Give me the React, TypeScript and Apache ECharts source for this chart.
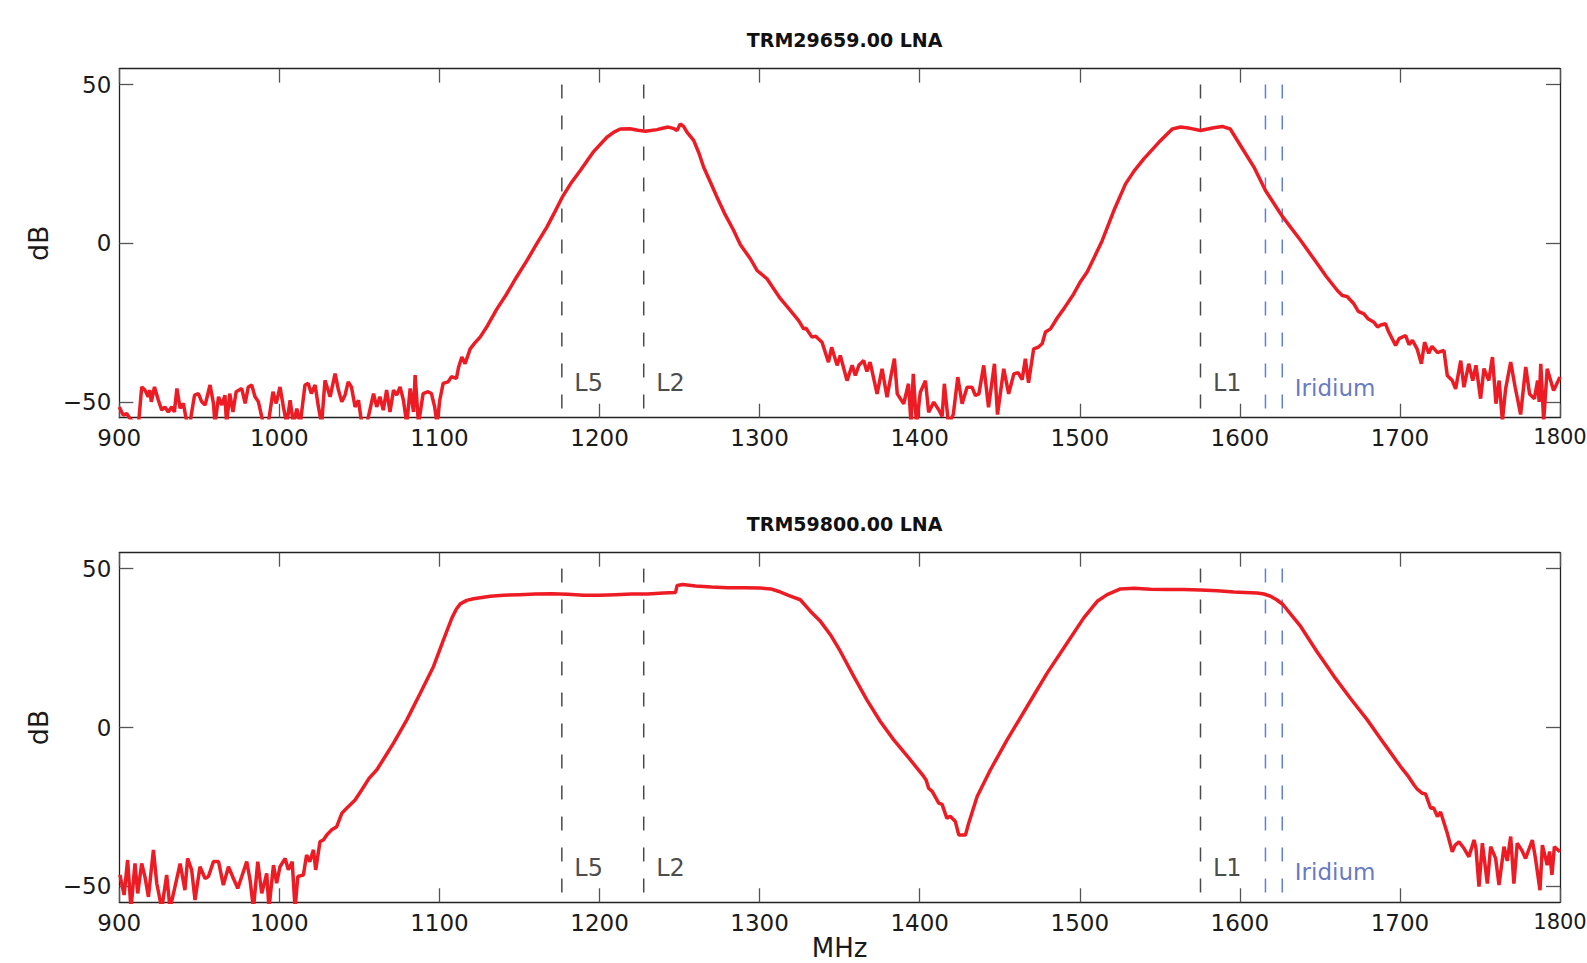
import React, { useEffect, useRef } from "react";
import * as echarts from "echarts";

const FREQ_MIN = 900;
const FREQ_MAX = 1800;
const FREQ_STEP = 100;
const DB_MIN = -55;
const DB_MAX = 55;
const DB_TICKS = [-50, 0, 50];
const TITLES = ["TRM29659.00 LNA", "TRM59800.00 LNA"];
const X_NAME = "MHz";
const Y_NAME = "dB";

const GNSS_BANDS = [
  { name: "L5", freq: 1176.45 },
  { name: "L2", freq: 1227.6 },
  { name: "L1", freq: 1575.42 },
];
const IRIDIUM_EDGES = [1616, 1626.5];
const IRIDIUM_LABEL = "Iridium";
const MARKER_TOP = 50;
const BAND_LABEL_DB = -44.2;
const IRIDIUM_LABEL_DB = -45.5;

// TRM29659.00 LNA gain (MHz, dB)
const trm29659: [number, number][] = [
  [900, -51.6], [902.5, -54.2], [904.6, -53.7], [907, -55.5], [910, -57], [912, -57], [914, -45.3], [916, -46.3],
  [918, -48.4], [919, -46.3], [920, -50], [922, -45.3], [924.4, -49.5], [926.5, -52.6], [928.5, -51.6], [930.6, -53.2],
  [932.7, -51.6], [934.4, -53.2], [936, -45.8], [938, -52], [940, -50.5], [942, -56], [944, -57], [947, -47.9],
  [949.4, -47.4], [951.5, -50], [953.6, -51], [956.7, -44.7], [958.8, -50.5], [959.8, -57], [962, -48.4], [964, -51],
  [966, -47.9], [967, -57], [969, -47.4], [971, -53.2], [973, -46.8], [976.5, -45.8], [978.6, -50.5], [980.6, -45.3],
  [982.7, -44.7], [984.8, -48.4], [986.9, -50], [990, -57], [993, -57], [996, -46.8], [998, -50.5], [1000.4, -45.3],
  [1002.5, -51.6], [1004.6, -57], [1006.7, -49.5], [1008.8, -57], [1010.9, -52.1], [1013, -57], [1016, -44.7], [1018, -44.2],
  [1020, -47.4], [1022.3, -44.7], [1024.4, -51.6], [1026.4, -57], [1028.5, -43.2], [1031.7, -48.4], [1034.8, -41.1], [1036.9, -46.3],
  [1039, -50], [1041, -47.9], [1043, -43.7], [1045, -45.3], [1047.3, -51.6], [1049.4, -49.5], [1051.5, -57], [1054.6, -57],
  [1058.8, -47.4], [1060.8, -51.6], [1062.8, -48.4], [1064.9, -52.6], [1067, -46.3], [1069.1, -53.2], [1071.3, -46.3], [1073.3, -47.9],
  [1075.4, -45.3], [1077.5, -49.5], [1079.6, -57], [1081.7, -45.8], [1083.8, -53.2], [1084.8, -41.6], [1086.9, -57], [1089.8, -47.4],
  [1092.9, -46.8], [1095, -47.4], [1097, -51.6], [1098.5, -57], [1100.2, -49.5], [1102.3, -44.2], [1105.4, -43.7], [1107.5, -42.1],
  [1110.6, -42.6], [1112, -39], [1114, -35.9], [1116, -38], [1119.2, -33.3], [1122, -31.5], [1125.4, -29.6], [1130, -26],
  [1135.9, -20.7], [1142, -16], [1148, -10.8], [1154.6, -5.5], [1161, 0], [1167, 5], [1172, 9.8], [1176.7, 14.5],
  [1182, 18.8], [1188, 22.9], [1196, 28.7], [1204.6, 33.4], [1209, 35], [1213, 36], [1219, 36.1], [1224, 35.6],
  [1228.6, 35.3], [1232, 35.5], [1235.9, 35.8], [1240, 36.3], [1243, 36.6], [1246, 36.2], [1248.4, 35.5], [1250.4, 37.6],
  [1252.5, 36.8], [1254.6, 35], [1258.8, 32.4], [1262, 28.5], [1265, 24], [1269, 19.5], [1273.4, 14.5], [1278, 9.5],
  [1283.8, 4], [1288, -0.5], [1294.2, -4.9], [1298.4, -8.6], [1304.6, -11.2], [1309, -14.5], [1313, -17.5], [1318, -20.5],
  [1324.4, -24.4], [1327.5, -27], [1329, -26.8], [1332.7, -29.6], [1335, -29.3], [1339, -31.2], [1343, -37.5], [1345, -32.8],
  [1348.4, -38.5], [1350.4, -35.4], [1354.6, -43.3], [1357.8, -38.5], [1359.8, -41.7], [1362, -38.5], [1365, -37], [1367, -40.4],
  [1369, -37.5], [1373.4, -47.5], [1376.5, -39.6], [1379.6, -48.5], [1382, -42], [1384.2, -36.4], [1386, -47.5], [1390, -50.6],
  [1393, -44.3], [1394.6, -57], [1396, -41.2], [1398, -57], [1400.4, -47], [1403.6, -43.3], [1405.6, -53.3], [1408.8, -50.1],
  [1412, -52.6], [1414, -54.6], [1415.4, -44.3], [1418, -57], [1421, -54], [1423.8, -42.2], [1426.5, -50.6], [1429.6, -45.4],
  [1432.7, -45.4], [1434.8, -48], [1437, -47.5], [1440, -38.5], [1443, -51.7], [1446.7, -38], [1448.6, -54], [1452.5, -39.6],
  [1455.6, -47.5], [1458.8, -41.2], [1461.5, -40.8], [1464, -43], [1466, -36.4], [1468, -44], [1471.2, -33.3], [1474, -32.8],
  [1476.5, -31.7], [1478.6, -28], [1481.7, -27], [1486, -23.5], [1490, -20.7], [1496.2, -16], [1500, -12.5], [1504.6, -9.1],
  [1509, -4.5], [1514, 0.8], [1521.3, 10.3], [1528.6, 18.7], [1534, 22.8], [1540, 26.6], [1549.4, 31.8], [1557.8, 36],
  [1563, 36.6], [1569, 36.2], [1575.4, 35.5], [1583.7, 36.4], [1589, 36.8], [1594, 36], [1600.4, 30.8], [1608.8, 24],
  [1616, 16.6], [1626.9, 8.2], [1638, 0.85], [1648.4, -6.5], [1654, -10.5], [1660.9, -14.9], [1664, -16.5], [1667, -16.8],
  [1671.2, -19.1], [1674, -21.5], [1677.5, -22.3], [1680, -23.8], [1683.8, -24.9], [1686, -26.4], [1688, -25.8], [1691, -25.4],
  [1693, -28], [1697.3, -32.2], [1699.4, -30.1], [1703.6, -29.1], [1705.7, -32], [1707.8, -30.6], [1710.8, -33.4], [1713.4, -38],
  [1715.4, -31.2], [1718, -34.7], [1720, -32.5], [1723.5, -34.5], [1727.5, -33.8], [1729.6, -41.7], [1732.7, -43.3], [1734.8, -45.9],
  [1738, -37], [1740, -45.4], [1743, -38], [1745.5, -43.3], [1747.5, -38.5], [1750.4, -49], [1752.5, -39.5], [1755.5, -43.3],
  [1757.8, -35.9], [1760, -50.6], [1762, -43.3], [1764, -56], [1766, -46], [1769.2, -37.5], [1772, -45.4], [1775.4, -54],
  [1778.6, -39], [1781, -47.5], [1784, -49], [1786, -43.3], [1787, -50], [1788, -38], [1789.8, -56], [1792, -39.6],
  [1796, -46.4], [1800, -42.2],
];

// TRM59800.00 LNA gain (MHz, dB)
const trm59800: [number, number][] = [
  [900.4, -46.4], [903, -52.7], [905.2, -41.7], [907.3, -57], [909.8, -42.8], [911.5, -52.2], [914, -42.8], [916, -46.9],
  [918.2, -53.3], [921.3, -38.5], [923.4, -49], [926.5, -57], [929.6, -46.4], [931.7, -57], [934.8, -50.1], [938, -42.8],
  [941, -51.2], [942.7, -41.2], [945.2, -44.8], [947.3, -54.3], [950.4, -43.8], [953.6, -47.5], [955.7, -46.9], [958.8, -42.2],
  [962, -42.2], [965, -49.6], [968.2, -43.8], [971.3, -47.5], [974, -50.6], [976.5, -46.9], [979.6, -42.2], [981.7, -48],
  [983.8, -57], [986.5, -42.2], [989, -52.2], [992.1, -45.9], [993.5, -57], [996.3, -43.3], [998.3, -49], [1000.4, -43.8],
  [1003.6, -41.2], [1005.6, -44.8], [1008, -42.2], [1009.8, -57], [1011.5, -46.9], [1015, -46.4], [1017, -40.1], [1019, -42.2],
  [1021.3, -38.5], [1022.7, -44.8], [1025.4, -35.9], [1027.5, -35.4], [1029.6, -33.8], [1032.7, -32.2], [1035.8, -31.2], [1039, -27],
  [1043, -24.9], [1047.3, -22.8], [1051.5, -19.6], [1056, -16], [1060.9, -13.3], [1066, -9.2], [1071.3, -4.9], [1079.6, 2.4],
  [1088, 10.8], [1096.3, 19.2], [1102.5, 27.6], [1107.8, 34.5], [1110.5, 37.2], [1113, 38.9], [1117, 40], [1121.3, 40.5],
  [1131.7, 41.3], [1140, 41.6], [1150, 41.8], [1160, 42], [1170, 42.1], [1180, 41.9], [1190, 41.6], [1200, 41.6],
  [1210, 41.8], [1220, 42], [1230, 42], [1240, 42.3], [1247.5, 42.5], [1248.5, 44.7], [1252, 45], [1260, 44.5],
  [1270, 44.2], [1280, 44], [1290, 44], [1300, 43.9], [1307, 43.6], [1312, 42.8], [1318, 41.6], [1325.4, 40.2],
  [1331.7, 36.6], [1338, 33.4], [1344.2, 29.2], [1350.4, 24], [1358.8, 16.1], [1367, 8.7], [1375.4, 1.9], [1383.8, -3.9],
  [1394.2, -10.2], [1402.5, -15.4], [1404, -16.5], [1405.6, -19.1], [1407.8, -20.1], [1411.9, -23.8], [1414, -24.2], [1417, -28.6],
  [1419, -27.9], [1422.3, -29.6], [1424.4, -33.8], [1428.6, -33.8], [1430.6, -30.1], [1435.9, -21.7], [1444.2, -13.3], [1454.6, -3.9],
  [1467.1, 6.6], [1479.6, 17.1], [1492.1, 26.6], [1502.5, 34.5], [1510.9, 39.7], [1517.1, 41.8], [1525.4, 43.6], [1533.8, 43.8],
  [1544.2, 43.5], [1554.6, 43.4], [1565, 43.4], [1575.4, 43.3], [1586, 43], [1596.3, 42.6], [1603, 42.5], [1610.9, 42.3],
  [1615, 42], [1619.2, 41.3], [1623, 40.2], [1626.9, 38.7], [1632, 35.5], [1638, 31.8], [1648, 24], [1658.8, 16.1],
  [1669, 9.2], [1679.6, 2.4], [1690, -5], [1700.4, -12.3], [1705, -15.2], [1708.8, -18.1], [1711, -19.5], [1714, -20.7],
  [1716, -20.9], [1719.2, -25.4], [1721, -25.2], [1723.4, -28], [1725.4, -26.6], [1729.6, -33.3], [1732.7, -39.1], [1734.5, -37],
  [1736.9, -36], [1740, -38], [1743.1, -40.7], [1746.3, -35.4], [1747.5, -38], [1749.4, -50.1], [1751.5, -36.4], [1754.6, -49.1],
  [1756.7, -37.5], [1759.8, -41.2], [1761.9, -49.6], [1765, -37.5], [1767, -42], [1769.2, -34.3], [1771.2, -49.1], [1773.3, -36.4],
  [1776, -38.5], [1778.5, -41.2], [1782.7, -35.4], [1784.7, -41.2], [1787.5, -51.2], [1789, -37], [1792, -43.3], [1793.5, -39],
  [1795, -46.4], [1796.5, -37.5], [1800, -39.1],
];

const CURVES = [trm29659, trm59800];

const FONT = "'DejaVu Sans', sans-serif";
const RED = "#ed1c24";
const BAND_COLOR = "#4a4a4a";
const IRIDIUM_COLOR = "#5f7fd8";
const IRIDIUM_TEXT = "#3d55b3";
const AXIS_COLOR = "#222";
const TEXT_COLOR = "#1a1a1a";

const GRIDS = [
  { left: 119.3, top: 68.7, width: 1440.7, height: 349 },
  { left: 119.3, top: 552.7, width: 1440.7, height: 349.6 },
];

function fmtDb(v: number) {
  return v < 0 ? "\u2212" + Math.abs(v) : String(v);
}

function fmtFreq(v: number) {
  return v === FREQ_MAX ? "{edge|" + v + "}" : String(v);
}

function buildOption() {
  const xAxis: any[] = [];
  const yAxis: any[] = [];
  const series: any[] = [];
  const axisLine = { show: true, onZero: false, lineStyle: { color: AXIS_COLOR, width: 1.3 } };
  const axisTick = { show: true, inside: true, length: 14, lineStyle: { color: "#555", width: 1.3 } };
  const labelStyle = { fontFamily: FONT, fontSize: 23, color: TEXT_COLOR };

  GRIDS.forEach((_, g) => {
    xAxis.push({
      type: "value", gridIndex: g, position: "bottom",
      min: FREQ_MIN, max: FREQ_MAX, interval: FREQ_STEP,
      axisLine, axisTick,
      axisLabel: {
        ...labelStyle, margin: 9, formatter: fmtFreq,
        rich: { edge: { fontFamily: FONT, fontSize: 21, color: TEXT_COLOR } },
      },
      splitLine: { show: false },
      name: g === GRIDS.length - 1 ? X_NAME : "",
      nameLocation: "middle", nameGap: 26,
      nameTextStyle: { fontFamily: FONT, fontSize: 26, lineHeight: 26, color: TEXT_COLOR },
    });
    xAxis.push({
      type: "value", gridIndex: g, position: "top",
      min: FREQ_MIN, max: FREQ_MAX, interval: FREQ_STEP,
      axisLine, axisTick, axisLabel: { show: false }, splitLine: { show: false },
    });
    yAxis.push({
      type: "value", gridIndex: g, position: "left",
      min: DB_MIN, max: DB_MAX,
      axisLine,
      axisTick: { ...axisTick, customValues: DB_TICKS },
      axisLabel: { ...labelStyle, margin: 8, customValues: DB_TICKS, formatter: fmtDb },
      splitLine: { show: false },
      name: Y_NAME, nameLocation: "middle", nameGap: 61, nameRotate: 90,
      nameTextStyle: { fontFamily: FONT, fontSize: 27, color: TEXT_COLOR },
    });
    yAxis.push({
      type: "value", gridIndex: g, position: "right",
      min: DB_MIN, max: DB_MAX,
      axisLine,
      axisTick: { ...axisTick, customValues: DB_TICKS },
      axisLabel: { show: false }, splitLine: { show: false },
    });

    const xi = g * 2;
    const yi = g * 2;

    GNSS_BANDS.forEach((b) => {
      series.push({
        type: "line", xAxisIndex: xi, yAxisIndex: yi, silent: true, symbol: "none", z: 2,
        data: [[b.freq, MARKER_TOP], [b.freq, DB_MIN]],
        lineStyle: { color: BAND_COLOR, width: 1.5, type: [14, 17] },
      });
    });
    IRIDIUM_EDGES.forEach((f) => {
      series.push({
        type: "line", xAxisIndex: xi, yAxisIndex: yi, silent: true, symbol: "none", z: 2,
        data: [[f, MARKER_TOP], [f, DB_MIN]],
        lineStyle: { color: IRIDIUM_COLOR, width: 1.5, type: [14, 17] },
      });
    });

    series.push({
      type: "line", xAxisIndex: xi, yAxisIndex: yi, symbol: "none", showSymbol: false, z: 3,
      clip: true, data: CURVES[g],
      lineStyle: { color: RED, width: 3.5 },
    });

    series.push({
      type: "scatter", xAxisIndex: xi, yAxisIndex: yi, symbolSize: 1, silent: true, z: 4,
      itemStyle: { color: "transparent" },
      data: [
        ...GNSS_BANDS.map((b) => ({ name: b.name, value: [b.freq, BAND_LABEL_DB] })),
        {
          name: IRIDIUM_LABEL,
          value: [IRIDIUM_EDGES[IRIDIUM_EDGES.length - 1], IRIDIUM_LABEL_DB],
          label: { color: IRIDIUM_TEXT, fontSize: 23 },
        },
      ],
      label: {
        show: true, position: "right", distance: 12,
        formatter: (p: any) => p.name,
        fontFamily: FONT, fontSize: 24, color: TEXT_COLOR,
      },
    });
  });

  const title = TITLES.map((t, g) => ({
    text: t,
    left: GRIDS[g].left + GRIDS[g].width / 2,
    top: GRIDS[g].top - 43,
    textAlign: "center",
    textStyle: { fontFamily: FONT, fontWeight: "bold", fontSize: 19, color: "#111" },
  }));

  return {
    animation: false,
    backgroundColor: "#fff",
    title,
    grid: GRIDS.map((gr) => ({ ...gr, containLabel: false, outerBoundsMode: "none" })),
    xAxis,
    yAxis,
    series,
  };
}

export default function App() {
  const ref = useRef<HTMLDivElement>(null);
  useEffect(() => {
    if (!ref.current) return;
    const chart = echarts.init(ref.current, undefined, { renderer: "svg" });
    chart.setOption(buildOption() as any);
    return () => chart.dispose();
  }, []);
  return (
    <div
      ref={ref}
      style={{ position: "fixed", left: 0, top: 0, width: 1587, height: 963, background: "#fff" }}
    />
  );
}
